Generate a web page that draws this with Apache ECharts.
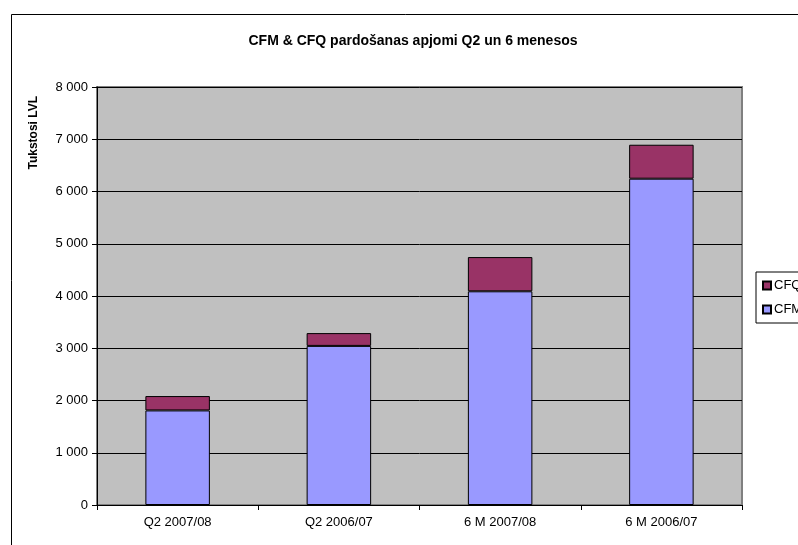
<!DOCTYPE html>
<html>
<head>
<meta charset="utf-8">
<script src="https://cdn.jsdelivr.net/npm/echarts@6/dist/echarts.min.js"></script>
<style>html,body{margin:0;padding:0;background:#fff}#c{width:798px;height:545px}</style>
</head>
<body>
<div id="c"></div>
<script>
const categories = ['Q2 2007/08', 'Q2 2006/07', '6 M 2007/08', '6 M 2006/07'];
const cfmValues = [1810, 3045, 4090, 6245];
const cfqValues = [275, 245, 655, 650];
const seriesNames = ['CFM', 'CFQ'];
const titleText = 'CFM & CFQ pardošanas apjomi Q2 un 6 menesos';
const yAxisName = 'Tukstosi LVL';

const chart = echarts.init(document.getElementById('c'));
const font = 'Liberation Sans, Arial, sans-serif';
chart.setOption({
  animation: false,
  backgroundColor: '#fff',
  title: {
    text: titleText,
    left: 408, top: 29, textAlign: 'center',
    textStyle: {fontFamily: font, fontSize: 14, fontWeight: 'bold', color: '#000'}
  },
  graphic: [{
    type: 'rect', left: 9, top: 12, z: -1,
    shape: {width: 820, height: 560},
    style: {fill: null, stroke: '#000', lineWidth: 1}
  }, {
    type: 'text', x: 34, y: 96, rotation: Math.PI / 2,
    style: {text: yAxisName, fontFamily: font, fontSize: 12, fontWeight: 'bold', fill: '#000',
      align: 'right', verticalAlign: 'middle'}
  }],
  legend: {
    data: ['CFQ', 'CFM'],
    orient: 'vertical',
    left: 756, top: 272,
    padding: [7, 20, 7, 6],
    itemWidth: 8, itemHeight: 8, itemGap: 11,
    borderColor: '#000', borderWidth: 1,
    icon: 'rect',
    textStyle: {fontFamily: font, fontSize: 13, color: '#000', padding: [0,0,0,-2]}
  },
  grid: {
    left: 97, top: 87, right: 56, bottom: 40,
    show: true, backgroundColor: '#c0c0c0', borderColor: '#808080', borderWidth: 2
  },
  xAxis: {
    type: 'category', data: categories,
    axisLine: {lineStyle: {color: '#000', width: 1}},
    axisTick: {show: true, length: 5, lineStyle: {color: '#000'}},
    axisLabel: {fontFamily: font, fontSize: 13, color: '#000', margin: 11}
  },
  yAxis: {
    type: 'value', min: 0, max: 8000, interval: 1000,
    axisLine: {show: true, lineStyle: {color: '#000', width: 1}},
    axisTick: {show: true, length: 5, lineStyle: {color: '#000'}},
    axisLabel: {fontFamily: font, fontSize: 13, color: '#000', margin: 9,
      formatter: v => String(v).replace(/\B(?=(\d{3})+(?!\d))/g, ' ')},
    splitLine: {show: true, lineStyle: {color: '#000', width: 1}}
  },
  series: [
    {name: seriesNames[0], type: 'bar', stack: 't', data: cfmValues, barWidth: '40%',
     itemStyle: {color: '#9999ff', borderColor: '#000', borderWidth: 1}},
    {name: seriesNames[1], type: 'bar', stack: 't', data: cfqValues, barWidth: '40%',
     itemStyle: {color: '#993366', borderColor: '#000', borderWidth: 1}}
  ]
});
</script>
</body>
</html>
